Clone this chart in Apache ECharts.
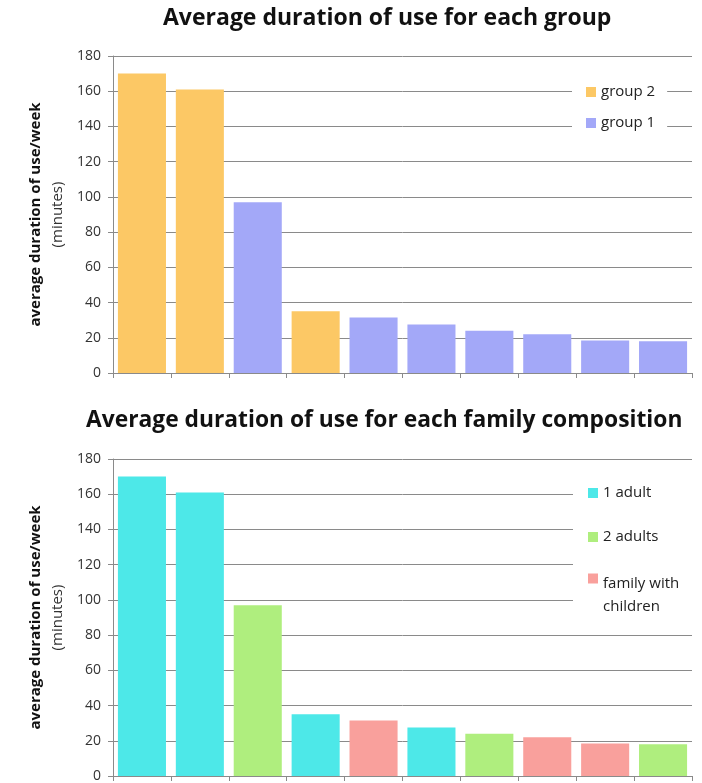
<!DOCTYPE html>
<html>
<head>
<meta charset="utf-8">
<script src="https://cdn.jsdelivr.net/npm/echarts@6/dist/echarts.min.js"></script>
<style>
html,body{margin:0;padding:0;background:#fff;}
#chart{width:702px;height:783px;}
</style>
</head>
<body>
<div id="chart"></div>
<script>
// ---- data ----
var categories = ['1','2','3','4','5','6','7','8','9','10'];
var durations = [170, 161, 97, 35, 31.5, 27.5, 24, 22, 18.5, 18];
var groupOf = ['group 2','group 2','group 1','group 2','group 1','group 1','group 1','group 1','group 1','group 1'];
var groupNames = ['group 2', 'group 1'];
var groupColors = ['#FCC865', '#A3A8F8'];
var familyOf = ['1 adult','1 adult','2 adults','1 adult','family with children','1 adult','2 adults','family with children','family with children','2 adults'];
var familyNames = ['1 adult', '2 adults', 'family with children'];
var familyColors = ['#4DE8E8', '#AFEE7E', '#F9A09C'];
var yTicks = {min: 0, max: 180, interval: 20};
var titles = ['Average duration of use for each group', 'Average duration of use for each family composition'];
var yName = ['average duration of use/week', '(minutes)'];

var FONT = 'Open Sans';
var GRID_C = '#8a8a8a';
var TXT = '#222';

function seriesFor(names, colors, assign, axisIdx, stackName) {
  return names.map(function (n, i) {
    return {
      name: n,
      type: 'bar',
      stack: stackName,
      xAxisIndex: axisIdx,
      yAxisIndex: axisIdx,
      barCategoryGap: '17%',
      itemStyle: {color: colors[i]},
      data: durations.map(function (v, k) { return assign[k] === n ? v : '-'; })
    };
  });
}

function xAx(gi) {
  return {
    type: 'category', gridIndex: gi, data: categories,
    axisLine: {show: true, lineStyle: {color: GRID_C}},
    axisTick: {show: true, length: 5, lineStyle: {color: GRID_C}},
    axisLabel: {show: false}
  };
}
function yAx(gi) {
  return {
    type: 'value', gridIndex: gi, min: yTicks.min, max: yTicks.max, interval: yTicks.interval,
    axisLine: {show: true, lineStyle: {color: GRID_C}},
    axisTick: {show: true, length: 5, lineStyle: {color: GRID_C}},
    splitLine: {show: true, lineStyle: {color: GRID_C}},
    axisLabel: {fontFamily: FONT, fontSize: 14, color: '#333', margin: 12},
    name: '{b|' + yName[0] + '}\n{n|' + yName[1] + '}',
    nameLocation: 'middle',
    nameGap: 44,
    nameTextStyle: {
      fontFamily: FONT,
      rich: {
        b: {fontFamily: FONT, fontSize: 15, fontWeight: 'bold', color: '#111', lineHeight: 22},
        n: {fontFamily: FONT, fontSize: 15, color: '#333', lineHeight: 22}
      }
    }
  };
}

var legendText = {fontFamily: FONT, fontSize: 15, color: TXT, lineHeight: 18};

var option = {
  animation: false,
  backgroundColor: '#fff',
  title: [
    {text: titles[0], left: 163, top: 7, padding: 0,
     textStyle: {fontFamily: FONT, fontSize: 23, fontWeight: 'bold', color: '#111'}},
    {text: titles[1], left: 86, top: 409, padding: 0,
     textStyle: {fontFamily: FONT, fontSize: 22.8, fontWeight: 'bold', color: '#111'}}
  ],
  grid: [
    {left: 113, right: 10, top: 56, height: 317},
    {left: 113, right: 10, top: 459, height: 317}
  ],
  xAxis: [xAx(0), xAx(1)],
  yAxis: [yAx(0), yAx(1)],
  legend: [
    {
      data: groupNames, orient: 'vertical', left: 572, top: 75,
      backgroundColor: '#fff', padding: [8, 12, 10, 14],
      itemWidth: 10, itemHeight: 10, itemGap: 13,
      textStyle: legendText,
      icon: 'rect'
    },
    {
      data: [familyNames[0], familyNames[1]],
      orient: 'vertical', left: 573, top: 476, z: 6,
      backgroundColor: '#fff', padding: [8, 60, 0, 15],
      itemWidth: 10, itemHeight: 10, itemGap: 26,
      icon: 'rect',
      textStyle: legendText
    },
    {
      data: [familyNames[2]],
      orient: 'vertical', left: 573, top: 548, z: 5,
      backgroundColor: '#fff', padding: [0, 20, 12, 15],
      itemWidth: 10, itemHeight: 10,
      icon: 'rect',
      formatter: function (n) {
        var parts = n.split(' children');
        return '{s| }\n{a|' + parts[0] + '}\n{a|children}';
      },
      textStyle: {
        fontFamily: FONT, fontSize: 15, color: TXT,
        rich: {
          s: {fontFamily: FONT, fontSize: 15, lineHeight: 33},
          a: {fontFamily: FONT, fontSize: 15, color: TXT, lineHeight: 23}
        }
      }
    }
  ],
  series: seriesFor(groupNames, groupColors, groupOf, 0, 'g')
    .concat(seriesFor(familyNames, familyColors, familyOf, 1, 'f'))
};

var chart = echarts.init(document.getElementById('chart'), null, {renderer: 'canvas'});
chart.setOption(option);
</script>
</body>
</html>
